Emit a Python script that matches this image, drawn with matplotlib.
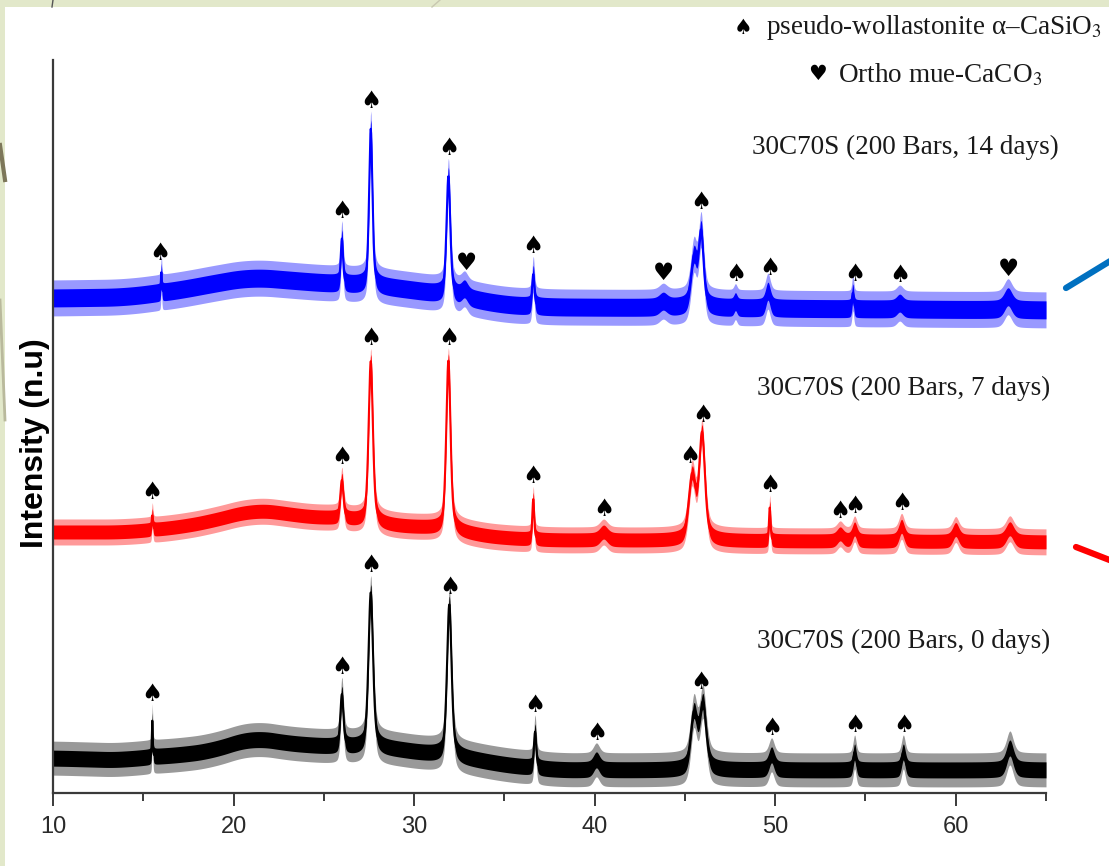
import numpy as np
import matplotlib.pyplot as plt
from matplotlib.lines import Line2D
from matplotlib.patches import Rectangle

plt.rcParams['mathtext.fontset'] = 'stix'

W, H = 1109, 866

# measurement grid (step of the diffractometer)
two_theta = np.arange(10, 65.001, 0.02)

# ---- 0 days (black) ----
black_base_x = [10, 14, 15, 17, 19, 21, 22.5, 24, 26, 28.5, 30, 31.5, 33.5, 35, 38, 65]
black_base_y = [35, 33, 36, 38, 43, 56, 51, 48, 46, 45, 41, 38, 33, 28, 23, 23]
black_peak_pos = [15.5, 26.0, 27.6, 31.95, 36.7, 40.1, 45.5, 46.0, 49.8, 54.4, 57.1, 63.0]
black_peak_h = [36, 52, 155, 152, 36, 10, 54, 64, 15, 18, 18, 22]
black_peak_w = [0.06, 0.2, 0.3, 0.3, 0.15, 0.4, 0.42, 0.42, 0.35, 0.2, 0.25, 0.45]
black_spades = [15.5, 26.0, 27.6, 32.0, 36.7, 40.1, 45.9, 49.8, 54.4, 57.1]
black_hearts = []

# ---- 7 days (red) ----
red_base_x = [10, 14, 17, 19, 21, 22.5, 24, 26, 28.5, 30, 31.5, 33.5, 35, 37.5, 65]
red_base_y = [261, 261, 266, 273, 283, 281, 276, 275, 268, 266, 265, 258, 255, 253, 251]
red_peak_pos = [15.5, 26.0, 27.6, 31.9, 36.6, 40.5, 45.4, 45.95, 49.7, 53.6, 54.4, 57.0, 60.0, 63.0]
red_peak_h = [14, 38, 161, 169, 40, 8, 62, 104, 33, 7, 12, 15, 12, 13]
red_peak_w = [0.08, 0.2, 0.28, 0.28, 0.12, 0.5, 0.45, 0.38, 0.1, 0.4, 0.3, 0.35, 0.4, 0.5]
red_spades = [15.5, 26.0, 27.6, 31.9, 36.6, 40.5, 45.3, 46.0, 49.7, 53.6, 54.4, 57.0]
red_hearts = []

# ---- 14 days (blue) ----
blue_base_x = [10, 14, 17, 19, 21, 23, 25, 27, 29, 31, 33.5, 35, 37.5, 65]
blue_base_y = [495, 496, 503, 510, 516, 513, 510, 508, 505, 500, 493, 488, 486, 483]
blue_peak_pos = [16.0, 26.0, 27.6, 31.9, 32.8, 36.6, 43.8, 45.5, 45.9, 47.8, 49.6, 54.3, 56.9, 62.9]
blue_peak_h = [20, 45, 157, 119, 8, 32, 6, 48, 72, 6, 17, 16, 6, 13]
blue_peak_w = [0.06, 0.15, 0.22, 0.25, 0.4, 0.15, 0.5, 0.4, 0.32, 0.2, 0.3, 0.12, 0.4, 0.5]
blue_spades = [15.9, 26.0, 27.6, 31.9, 36.6, 45.9, 47.8, 49.7, 54.4, 56.9]
blue_hearts = [32.9, 43.8, 62.9]

labels = ['30C70S (200 Bars, 0 days)', '30C70S (200 Bars, 7 days)', '30C70S (200 Bars, 14 days)']
label_x = [57.1, 57.1, 57.2]
label_y = [152, 405, 646]


def pattern(bx, by, pos, h, w):
    base = np.interp(two_theta, bx, by)
    k = 60
    base = np.convolve(np.pad(base, k, mode='edge'), np.ones(2 * k + 1) / (2 * k + 1), mode='same')[k:-k]
    y = base.copy()
    for p, a, f in zip(pos, h, w):
        g = np.exp(-4 * np.log(2) * ((two_theta - p) / f) ** 2)
        l = 1 / (1 + 4 * ((two_theta - p) / f) ** 2)
        y = y + a * (0.5 * g + 0.5 * l)
    return y


fig = plt.figure(figsize=(W / 100, H / 100), dpi=100)
fig.patch.set_facecolor('#E2E8CA')
fig.patches.append(Rectangle((5 / W, 0), 1, 1 - 7 / H, transform=fig.transFigure,
                             facecolor='white', edgecolor='none', zorder=-10))

ax = fig.add_axes([53 / W, (H - 793) / H, (1046 - 53) / W, (793 - 60) / H])
ax.set_facecolor('none')

# (core half width, fringe half width) of the noise band
series = [
    (black_base_x, black_base_y, black_peak_pos, black_peak_h, black_peak_w, black_spades, black_hearts, 'black', 8, 17),
    (red_base_x, red_base_y, red_peak_pos, red_peak_h, red_peak_w, red_spades, red_hearts, '#FF0000', 7, 13),
    (blue_base_x, blue_base_y, blue_peak_pos, blue_peak_h, blue_peak_w, blue_spades, blue_hearts, '#0000FF', 9, 18),
]

for bx, by, pos, h, w, spades, hearts, col, core, fringe in series:
    y = pattern(bx, by, pos, h, w)
    ax.fill_between(two_theta, y - fringe, y + fringe, color=col, lw=0, alpha=0.4)
    ax.fill_between(two_theta, y - core, y + core, color=col, lw=0)
    ax.plot(two_theta, y, color=col, lw=1.5)
    for xs, sym in ((spades, '\u2660'), (hearts, '\u2665')):
        for xm in xs:
            near = np.abs(two_theta - xm) < 0.2
            ym = max(y[near].max() + core, np.interp(xm, two_theta, y) + fringe) + 3
            ax.text(xm, ym, sym, ha='center', va='baseline', fontsize=17,
                    family='DejaVu Sans', color='black')

for t, tx, ty in zip(labels, label_x, label_y):
    ax.text(tx, ty, t, ha='center', va='center', fontsize=19.5,
            family='Liberation Serif', color='#1a1a1a')

ax.set_xlim(10, 65)
ax.set_ylim(0, 733)
ax.set_yticks([])
ax.set_xticks(np.arange(10, 61, 10))
ax.set_xticks(np.arange(15, 66, 10), minor=True)
for s in ['top', 'right']:
    ax.spines[s].set_visible(False)
for s in ['left', 'bottom']:
    ax.spines[s].set_color('#3a3a3a')
    ax.spines[s].set_linewidth(1.6)
ax.tick_params(axis='x', which='major', length=9.5, width=1.4, direction='out',
               pad=7, labelsize=17, colors='#3a3a3a', labelcolor='#2a2a2a')
ax.tick_params(axis='x', which='minor', length=6, width=1.4, direction='out', colors='#3a3a3a')
for lb in ax.get_xticklabels():
    lb.set_family('Liberation Sans')

fig.text(35 / W, 1 - 443 / H, 'Intensity (n.u)', rotation=90, ha='center', va='center',
         fontsize=23, fontweight='bold', family='Liberation Sans', color='black')

# legend of the phases
fig.text(743 / W, 1 - 34 / H, '\u2660', ha='center', va='baseline', fontsize=15, family='DejaVu Sans')
fig.text(766 / W, 1 - 34 / H, 'pseudo-wollastonite \u03b1\u2013CaSiO$_3$', ha='left', va='baseline',
         fontsize=19.5, family='Liberation Serif', color='#1a1a1a')
fig.text(817 / W, 1 - 80 / H, '\u2665', ha='center', va='baseline', fontsize=15, family='DejaVu Sans')
fig.text(838 / W, 1 - 82 / H, 'Ortho mue-CaCO$_3$', ha='left', va='baseline',
         fontsize=19.5, family='Liberation Serif', color='#1a1a1a')


# slide decoration around the picture
def px_line(x0, y0, x1, y1, **kw):
    fig.lines.append(Line2D([x0 / W, x1 / W], [1 - y0 / H, 1 - y1 / H], transform=fig.transFigure, **kw))


px_line(1066, 288, 1125, 252, color='#0070C0', lw=4.5, solid_capstyle='round')
px_line(1076, 547, 1125, 566, color='#FF0000', lw=4.5, solid_capstyle='round')
px_line(0, 145, 5, 180, color='#7d775a', lw=3)
px_line(0, 300, 5, 420, color='#b9b99c', lw=2)
px_line(53, 0, 52, 7, color='#555555', lw=1)
px_line(432, 7, 440, 0, color='#c8c8b0', lw=1)

fig.savefig('out.png', dpi=100, facecolor=fig.get_facecolor())
